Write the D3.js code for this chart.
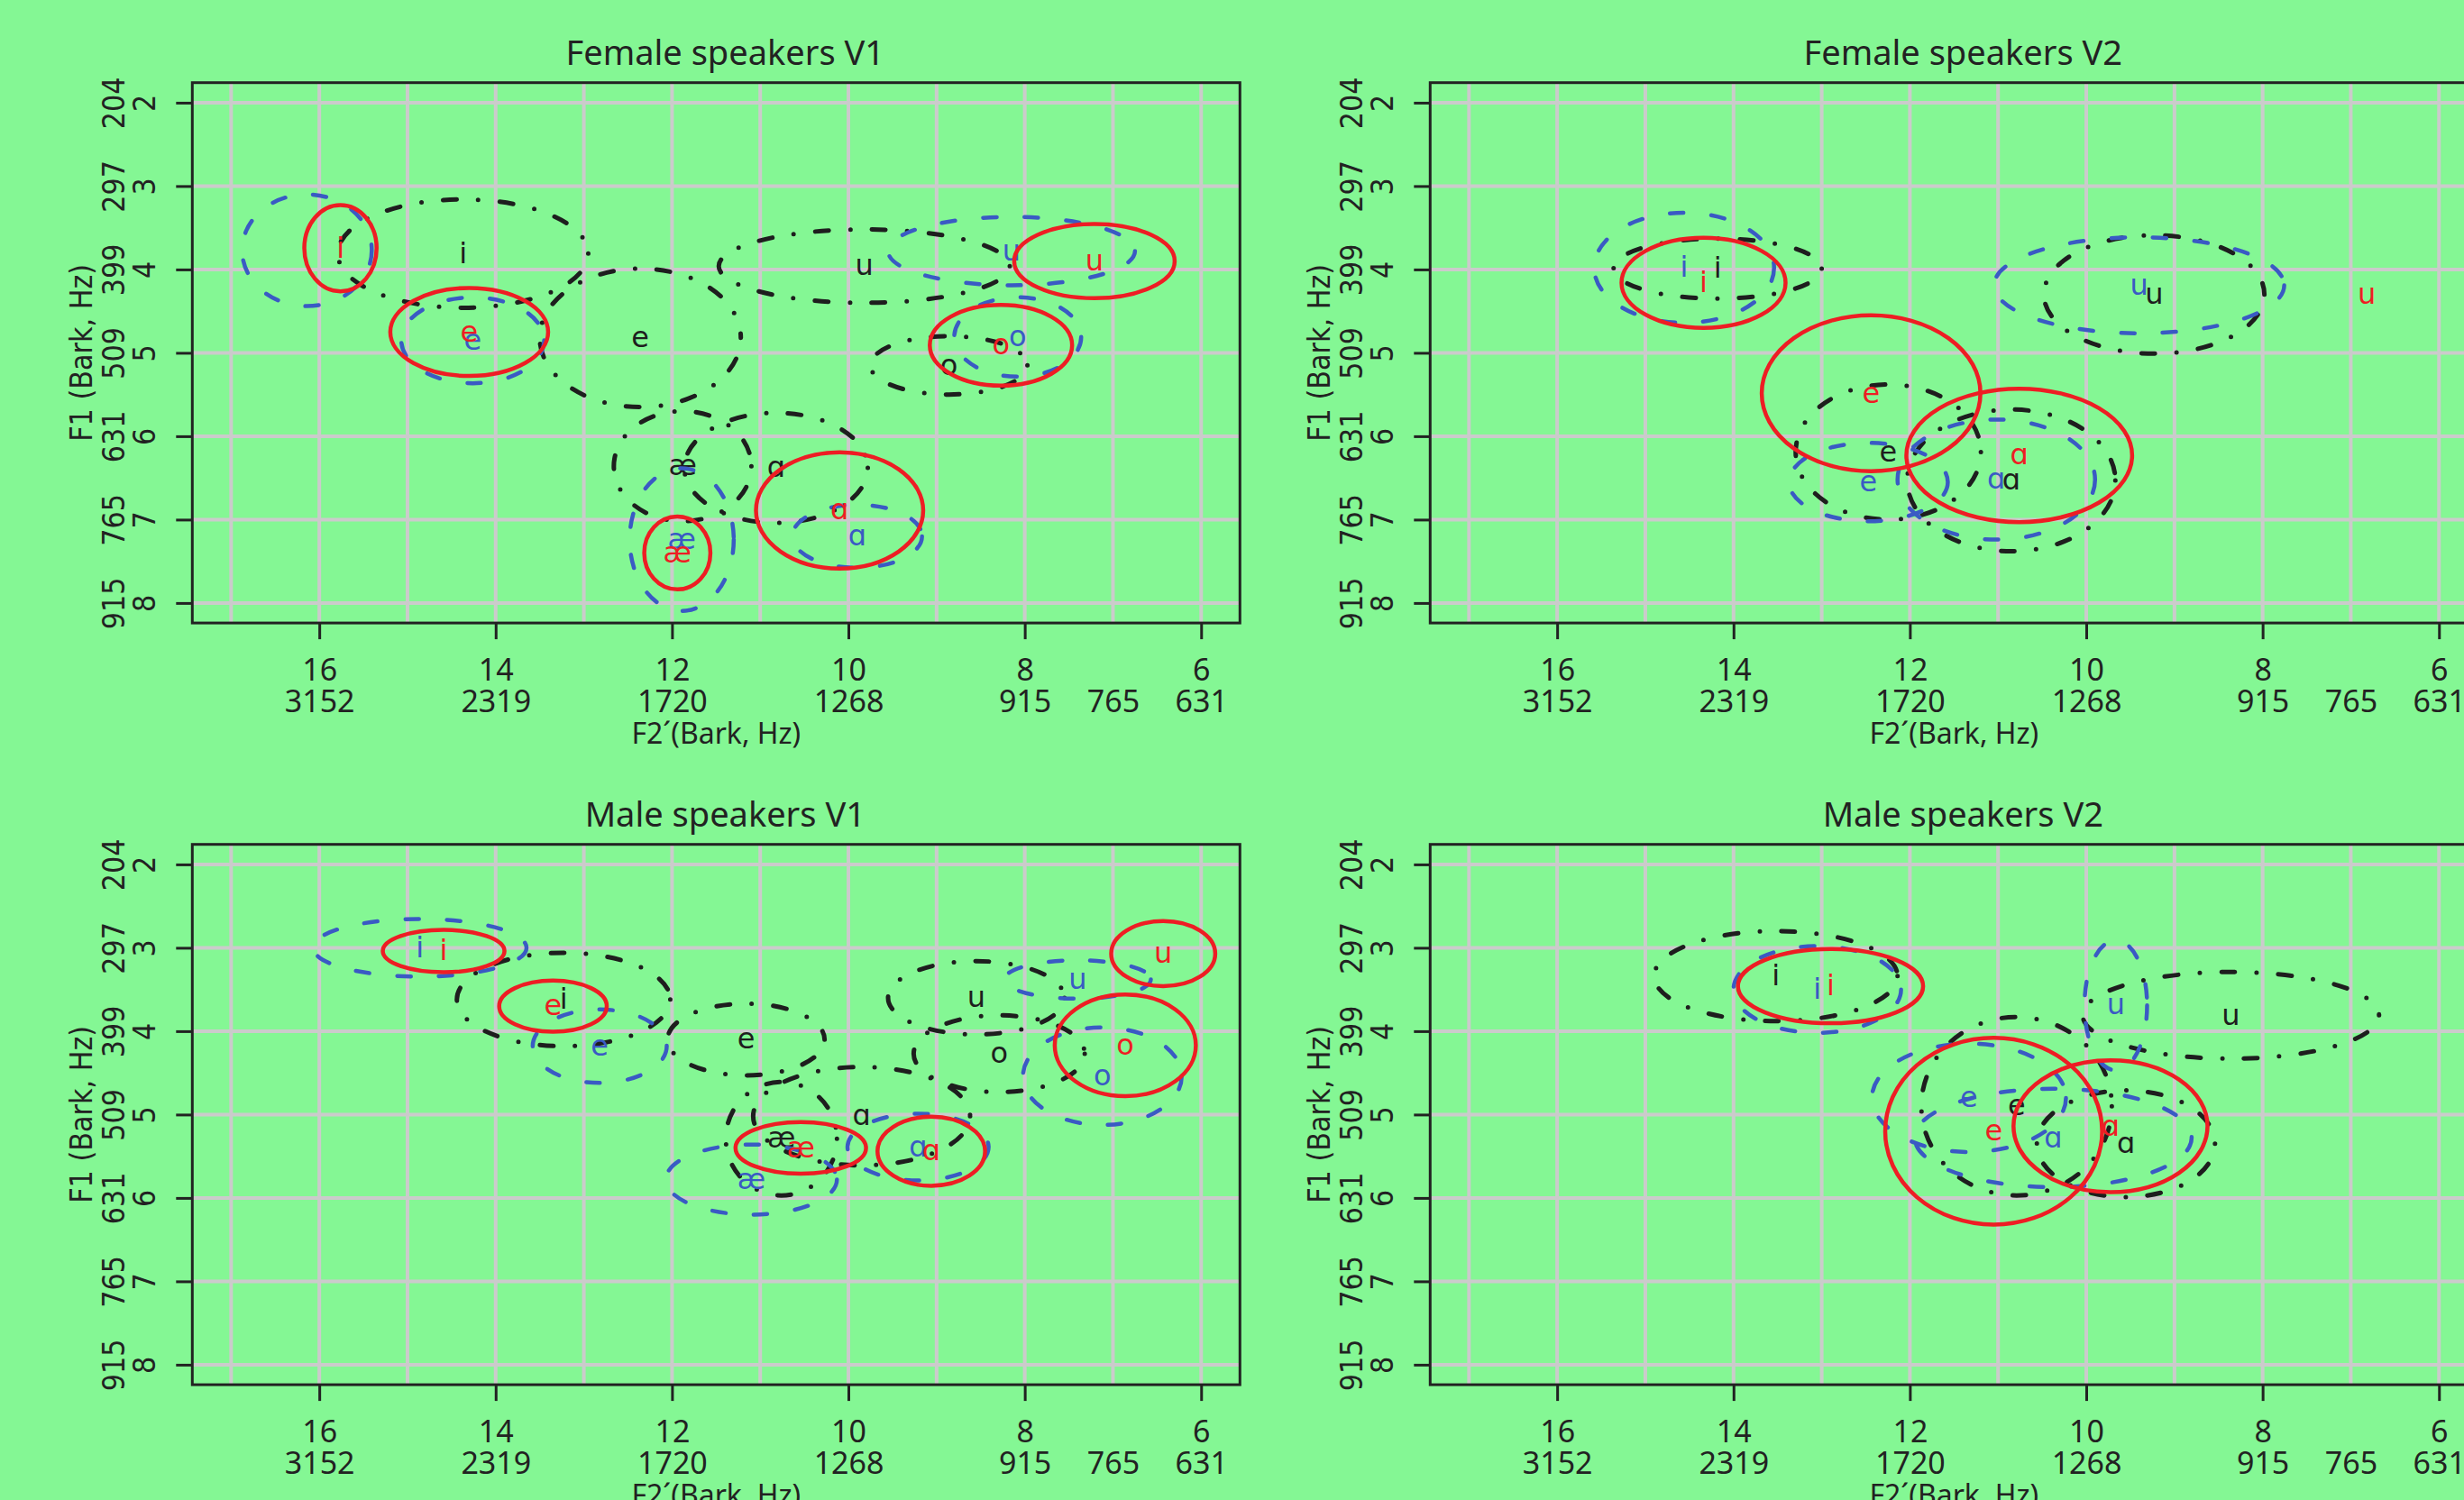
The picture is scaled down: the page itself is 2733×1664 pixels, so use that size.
<!DOCTYPE html>
<html>
<head>
<meta charset="utf-8">
<script src="https://cdn.jsdelivr.net/npm/d3@7"></script>
<style>
  body { margin: 0; background: #84f794; }
  svg { display: block; }
</style>
</head>
<body>
<div id="chart"></div>
<script>
// axis ticks (bark) and their Hz equivalents
var xBarkTicks = [16, 14, 12, 10, 8, 6];
var xHzAt = [16, 14, 12, 10, 8, 7, 6];
var xHzLabels = ["3152", "2319", "1720", "1268", "915", "765", "631"];
var yBarkTicks = [2, 3, 4, 5, 6, 7, 8];
var yHzLabels = ["204", "297", "399", "509", "631", "765", "915"];
var gridX = [17, 16, 15, 14, 13, 12, 11, 10, 9, 8, 7, 6];

var titles = ["Female speakers V1", "Female speakers V2", "Male speakers V1", "Male speakers V2"];

// [vowel, F2' bark, F1 bark, half-width bark, half-height bark]; label null = no label
var femV1Black = [["i", 14.37, 3.81, 1.42, 0.65], ["e", 12.36, 4.82, 1.14, 0.83], ["æ", 11.88, 6.36, 0.78, 0.66],
  ["ɑ", 10.82, 6.38, 1.04, 0.66], ["u", 9.82, 3.96, 1.65, 0.44], ["o", 8.86, 5.15, 0.89, 0.35]];
var femV1Blue = [[null, 16.14, 3.77, 0.735, 0.67], ["e", 14.26, 4.85, 0.81, 0.515], ["æ", 11.89, 7.24, 0.59, 0.855],
  ["ɑ", 9.90, 7.2, 0.735, 0.378], ["o", 8.08, 4.81, 0.72, 0.476], ["u", 8.15, 3.78, 1.40, 0.41]];
var femV1Red = [["i", 15.76, 3.745, 0.41, 0.517], ["e", 14.30, 4.75, 0.895, 0.528], ["æ", 11.94, 7.40, 0.375, 0.4375],
  ["ɑ", 10.10, 6.89, 0.948, 0.697], ["o", 8.27, 4.91, 0.807, 0.484], ["u", 7.21, 3.90, 0.91, 0.445]];

var femV2Black = [["i", 14.18, 3.99, 1.18, 0.36], ["e", 12.245, 6.19, 1.05, 0.81],
  ["ɑ", 10.85, 6.53, 1.18, 0.85], ["u", 9.23, 4.30, 1.25, 0.71]];
var femV2Blue = [["i", 14.56, 3.98, 1.02, 0.66], ["e", 12.47, 6.55, 0.90, 0.47],
  ["ɑ", 11.02, 6.52, 1.12, 0.72], ["u", 9.40, 4.19, 1.645, 0.576]];
var femV2Red = [["i", 14.34, 4.16, 0.93, 0.54], ["e", 12.44, 5.485, 1.24, 0.935],
  ["ɑ", 10.76, 6.23, 1.28, 0.80], ["u", 6.82, 4.30, 0, 0]];

var maleV1Black = [["i", 13.23, 3.62, 1.21, 0.56], ["e", 11.16, 4.10, 0.89, 0.43], ["æ", 10.76, 5.29, 0.63, 0.68],
  ["ɑ", 9.85, 5.02, 1.23, 0.59], ["u", 8.55, 3.60, 1.0, 0.44], ["o", 8.29, 4.27, 0.97, 0.46]];
var maleV1Blue = [["i", 14.86, 3.00, 1.21, 0.346], ["e", 12.82, 4.18, 0.76, 0.44], ["æ", 11.10, 5.78, 0.97, 0.42],
  ["ɑ", 9.21, 5.39, 0.80, 0.40], ["u", 7.40, 3.38, 0.83, 0.23], ["o", 7.12, 4.54, 0.90, 0.585]];
var maleV1Red = [["i", 14.59, 3.04, 0.69, 0.254], ["e", 13.35, 3.70, 0.61, 0.306], ["æ", 10.54, 5.40, 0.74, 0.31],
  ["ɑ", 9.06, 5.44, 0.61, 0.414], ["u", 6.43, 3.07, 0.59, 0.39], ["o", 6.86, 4.17, 0.80, 0.61]];

var maleV2Black = [["i", 13.52, 3.34, 1.38, 0.54], ["e", 10.79, 4.90, 1.08, 1.07],
  ["ɑ", 9.55, 5.35, 1.01, 0.64], ["u", 8.36, 3.81, 1.68, 0.52]];
var maleV2Blue = [["i", 13.05, 3.50, 0.95, 0.52], ["e", 11.33, 4.80, 1.10, 0.65],
  ["ɑ", 10.375, 5.28, 1.57, 0.59], ["u", 9.665, 3.69, 0.355, 0.78]];
var maleV2Red = [["i", 12.90, 3.46, 1.05, 0.445], ["e", 11.05, 5.20, 1.23, 1.12],
  ["ɑ", 9.725, 5.14, 1.10, 0.79]];

var panelData = [
  [femV1Black, femV1Blue, femV1Red],
  [femV2Black, femV2Blue, femV2Red],
  [maleV1Black, maleV1Blue, maleV1Red],
  [maleV2Black, maleV2Blue, maleV2Red]
];

var W = 2733, H = 1664;
var ink = "#222222";
var styles = [
  { color: "#1e1e1e", width: 5, dash: "0 24 15 24" },
  { color: "#3a5ac4", width: 4.5, dash: "15 31" },
  { color: "#ee1d24", width: 4.5, dash: null }
];

var svg = d3.select("#chart").append("svg")
  .attr("width", W)
  .attr("height", H);
svg.append("rect").attr("width", W).attr("height", H).attr("fill", "#84f794");

var boxW = 1162, boxH = 599.4;
var origins = [[213.3, 91.7], [1586.3, 91.7], [213.3, 936.7], [1586.3, 936.7]];

origins.forEach(function(o, p) {
  drawPanel(o[0], o[1], titles[p], panelData[p]);
});

function drawPanel(x0, y0, title, groups) {
  var x = d3.scaleLinear().domain([17.44, 5.56]).range([x0, x0 + boxW]);
  var y = d3.scaleLinear().domain([1.76, 8.24]).range([y0, y0 + boxH]);
  var g = svg.append("g");

  // grid
  g.selectAll(".vgrid").data(gridX).enter().append("line")
    .attr("x1", d => x(d)).attr("x2", d => x(d))
    .attr("y1", y0).attr("y2", y0 + boxH)
    .attr("stroke", "#cbcbcb").attr("stroke-width", 4);
  g.selectAll(".hgrid").data(yBarkTicks).enter().append("line")
    .attr("x1", x0).attr("x2", x0 + boxW)
    .attr("y1", d => y(d)).attr("y2", d => y(d))
    .attr("stroke", "#cbcbcb").attr("stroke-width", 4);

  // ellipses + labels, one speaker group after another
  groups.forEach(function(rows, gi) {
    var st = styles[gi];
    var gg = g.append("g");
    gg.selectAll("ellipse").data(rows.filter(r => r[3] > 0)).enter().append("ellipse")
      .attr("cx", d => x(d[1]))
      .attr("cy", d => y(d[2]))
      .attr("rx", d => Math.abs(x(d[1] + d[3]) - x(d[1])))
      .attr("ry", d => Math.abs(y(d[2] + d[4]) - y(d[2])))
      .attr("fill", "none")
      .attr("stroke", st.color)
      .attr("stroke-width", st.width)
      .attr("stroke-linecap", "round")
      .attr("stroke-dasharray", st.dash);
    gg.selectAll("text").data(rows.filter(r => r[0] != null)).enter().append("text")
      .attr("x", d => x(d[1]))
      .attr("y", d => y(d[2]))
      .attr("dy", "0.32em")
      .attr("text-anchor", "middle")
      .attr("fill", st.color)
      .style("font-family", "'DejaVu Sans', sans-serif")
      .style("font-size", "32px")
      .text(d => d[0]);
  });

  // frame
  g.append("rect")
    .attr("x", x0).attr("y", y0).attr("width", boxW).attr("height", boxH)
    .attr("fill", "none").attr("stroke", ink).attr("stroke-width", 3);

  // bottom axis: bark row with ticks, Hz row without
  var xAxis = d3.axisBottom(x).tickValues(xBarkTicks).tickSize(18).tickFormat(d3.format("d"));
  var gx = g.append("g").attr("transform", "translate(0," + (y0 + boxH) + ")").call(xAxis);
  gx.select(".domain").remove();
  gx.selectAll(".tick line").attr("stroke", ink).attr("stroke-width", 3);
  gx.selectAll(".tick text")
    .attr("y", 64).attr("dy", null).attr("fill", ink)
    .style("font-family", "'Noto Sans', sans-serif").style("font-size", "34px");

  var xHzAxis = d3.axisBottom(x).tickValues(xHzAt).tickSize(0)
    .tickFormat((d, i) => xHzLabels[i]);
  var gh = g.append("g").attr("transform", "translate(0," + (y0 + boxH) + ")").call(xHzAxis);
  gh.select(".domain").remove();
  gh.selectAll(".tick text")
    .attr("y", 99).attr("dy", null).attr("fill", ink)
    .style("font-family", "'Noto Sans', sans-serif").style("font-size", "34px");

  // left axis, rotated labels
  var yAxis = d3.axisLeft(y).tickValues(yBarkTicks).tickSize(18).tickFormat(d3.format("d"));
  var gy = g.append("g").attr("transform", "translate(" + x0 + ",0)").call(yAxis);
  gy.select(".domain").remove();
  gy.selectAll(".tick line").attr("stroke", ink).attr("stroke-width", 3);
  gy.selectAll(".tick text")
    .attr("x", null).attr("dy", null)
    .attr("text-anchor", "middle").attr("fill", ink)
    .attr("transform", "translate(-41,0) rotate(-90) scale(0.89,1)")
    .style("font-family", "'DejaVu Sans', sans-serif").style("font-size", "34px");
  gy.selectAll(".tick").append("text")
    .attr("text-anchor", "middle").attr("fill", ink)
    .attr("transform", "translate(-75,0) rotate(-90) scale(0.89,1)")
    .style("font-family", "'DejaVu Sans', sans-serif").style("font-size", "34px")
    .text((d, i) => yHzLabels[i]);

  // titles
  g.append("text")
    .attr("x", x0 + boxW / 2 + 10).attr("y", y0 - 20)
    .attr("text-anchor", "middle").attr("fill", ink)
    .style("font-family", "'Noto Sans', sans-serif").style("font-size", "38px")
    .text(title);
  g.append("text")
    .attr("x", x0 + boxW / 2).attr("y", y0 + boxH + 134)
    .attr("text-anchor", "middle").attr("fill", ink)
    .style("font-family", "'Noto Sans', sans-serif").style("font-size", "32px")
    .text("F2´(Bark, Hz)");
  g.append("text")
    .attr("text-anchor", "middle").attr("fill", ink)
    .attr("transform", "translate(" + (x0 - 111) + "," + (y0 + boxH / 2) + ") rotate(-90) scale(0.89,1)")
    .style("font-family", "'DejaVu Sans', sans-serif").style("font-size", "34px")
    .text("F1 (Bark, Hz)");
}
</script>
</body>
</html>
